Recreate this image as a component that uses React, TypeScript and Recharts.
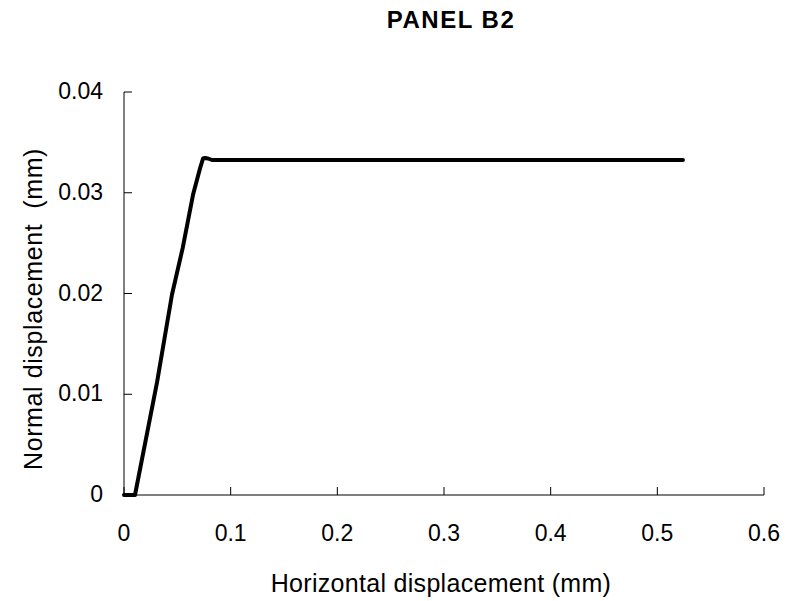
import { FC } from "react";
import { Line, LineChart, XAxis, YAxis } from "recharts";

// horizontal displacement (mm) vs normal displacement (mm)
const horizontal = [0, 0.0103, 0.031, 0.045, 0.055, 0.0647, 0.0715, 0.0741, 0.0759, 0.0788, 0.0825, 0.3, 0.524];
const normal = [0, 0, 0.0112, 0.0199, 0.0245, 0.0298, 0.0325, 0.0334, 0.03345, 0.0334, 0.03325, 0.03325, 0.03325];
const xTicks = [0, 0.1, 0.2, 0.3, 0.4, 0.5, 0.6];
const yTicks = [0, 0.01, 0.02, 0.03, 0.04];

const FONT = "'Liberation Sans', Arial, sans-serif";

const fmt = (v: number) => (v === 0 ? "0" : String(v));

const XTick = (props: any) => {
  const { x, y, payload } = props;
  return (
    <g>
      <line x1={x} x2={x} y1={y} y2={y - 8} stroke="#000" />
      <text x={x} y={y + 46} textAnchor="middle" fill="#000" fontSize={23} fontFamily={FONT}>
        {fmt(payload.value)}
      </text>
    </g>
  );
};

const YTick = (props: any) => {
  const { x, y, payload } = props;
  return (
    <g>
      <line x1={x} x2={x + 8} y1={y} y2={y} stroke="#000" />
      <text x={x - 21} y={y + 7} textAnchor="end" fill="#000" fontSize={23} fontFamily={FONT}>
        {fmt(payload.value)}
      </text>
    </g>
  );
};

const App: FC = () => {
  const chartData = horizontal.map((x, i) => ({ x, y: normal[i] }));

  return (
    <div style={{ position: "absolute", left: 0, top: 0, background: "#fff" }}>
      <svg width={787} height={601} style={{ position: "absolute", left: 0, top: 0 }}>
        <text x={451} y={28} textAnchor="middle" fontFamily={FONT} fontWeight="bold" fontSize={24} letterSpacing={1.5}>
          PANEL B2
        </text>
        <text x={441} y={592} textAnchor="middle" fontFamily={FONT} fontSize={25} letterSpacing={0.3}>
          Horizontal displacement (mm)
        </text>
        <text
          x={0}
          y={0}
          transform="translate(42,309) rotate(-90)"
          textAnchor="middle"
          fontFamily={FONT}
          fontSize={25}
          letterSpacing={0.6}
          xmlSpace="preserve"
        >
          Normal displacement  (mm)
        </text>
      </svg>
      <LineChart
        width={787}
        height={601}
        data={chartData}
        margin={{ top: 92, right: 23, bottom: 0, left: 0 }}
      >
        <XAxis
          dataKey="x"
          type="number"
          domain={[0, 0.6]}
          ticks={xTicks}
          height={106}
          stroke="#000"
          tickSize={0}
          tickMargin={0}
          tickLine={false}
          tick={<XTick />}
          interval={0}
        />
        <XAxis
          xAxisId="top"
          orientation="top"
          dataKey="x"
          type="number"
          domain={[0, 0.6]}
          height={0}
          tick={false}
          tickLine={false}
          stroke="#999"
        />
        <YAxis
          type="number"
          domain={[0, 0.04]}
          ticks={yTicks}
          width={124}
          stroke="#000"
          tickSize={0}
          tickMargin={0}
          tickLine={false}
          tick={<YTick />}
          interval={0}
        />
        <YAxis
          yAxisId="right"
          orientation="right"
          type="number"
          domain={[0, 0.04]}
          width={0}
          tick={false}
          tickLine={false}
          stroke="#999"
        />
        <Line
          type="linear"
          dataKey="y"
          stroke="#000"
          strokeWidth={4}
          strokeLinejoin="round"
          strokeLinecap="round"
          dot={false}
          isAnimationActive={false}
        />
      </LineChart>
    </div>
  );
};

export default App;
